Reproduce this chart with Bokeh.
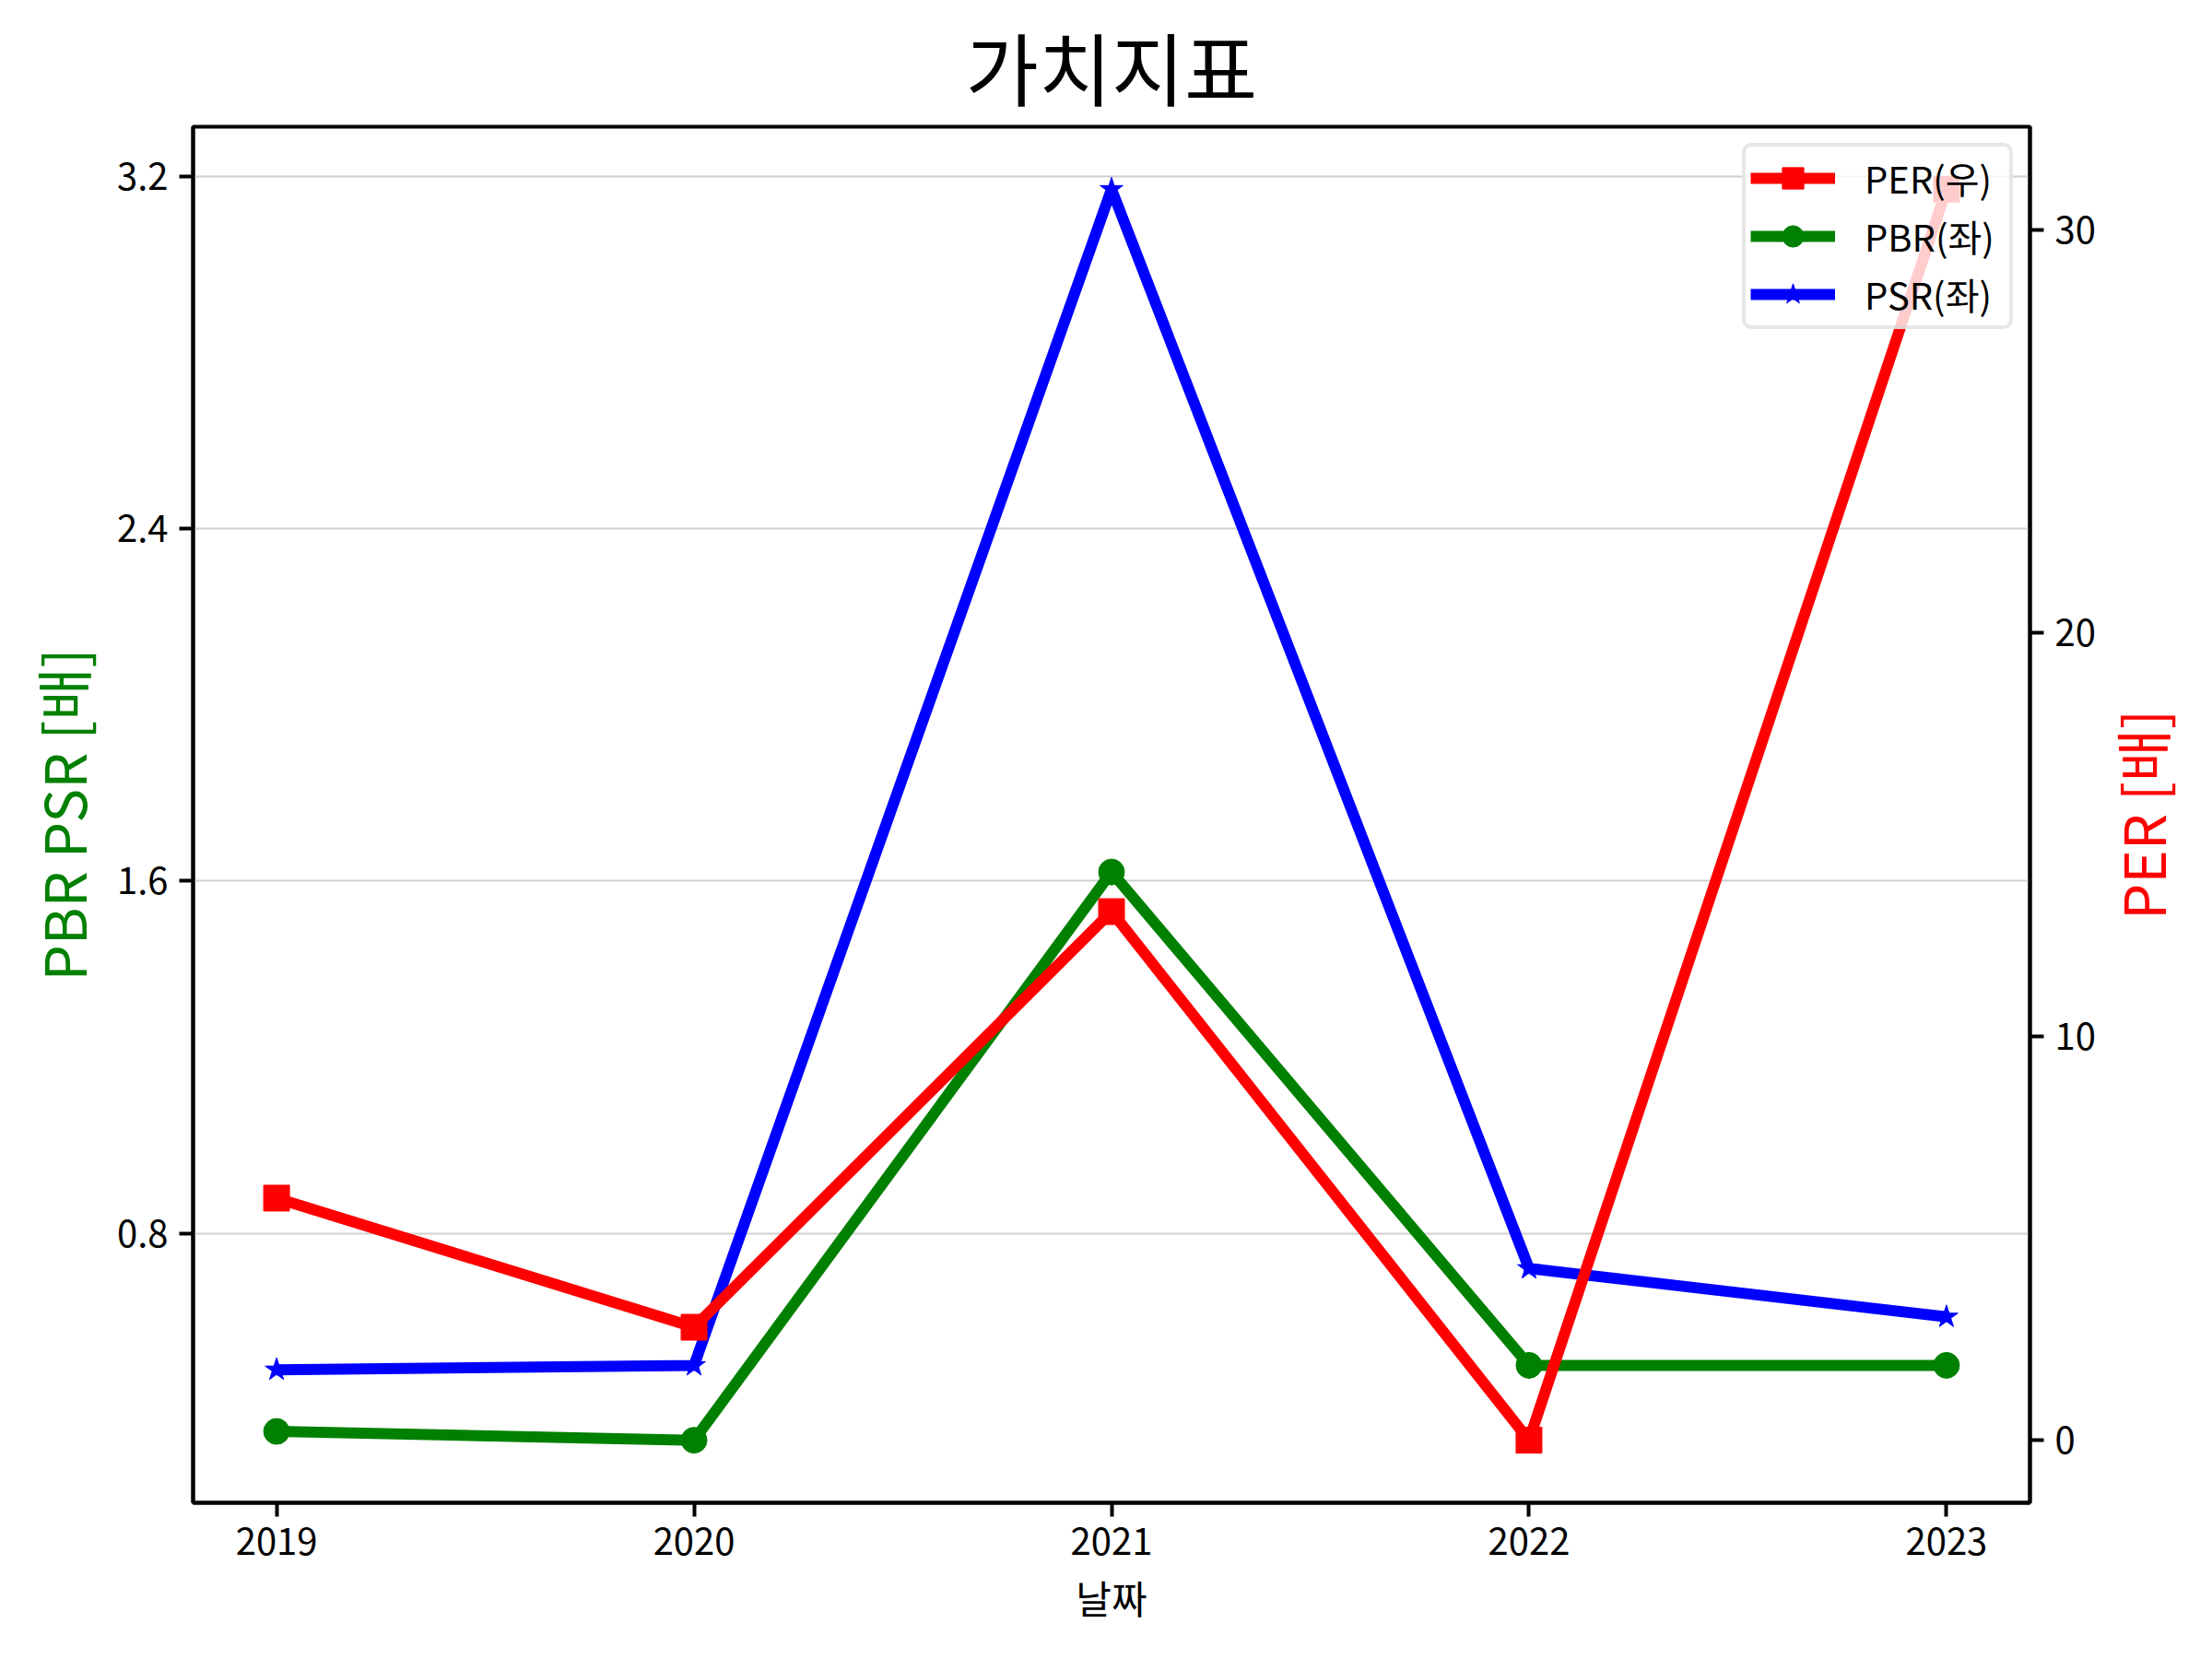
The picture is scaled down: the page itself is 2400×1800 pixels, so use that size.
import math
from bokeh.plotting import figure
from bokeh.layouts import row
from bokeh.models import Range1d, LinearAxis, FixedTicker, Legend, LegendItem, Title
from bokeh.embed import file_html
from bokeh.resources import INLINE

years = [2019, 2020, 2021, 2022, 2023]
per = [6.0, 2.8, 13.1, 0.0, 31.0]
pbr = [0.35, 0.33, 1.62, 0.50, 0.50]
psr = [0.49, 0.50, 3.17, 0.72, 0.61]

left_ticks = [0.8, 1.6, 2.4, 3.2]
right_ticks = [0, 10, 20, 30]

title_text = "가치지표"
xlabel = "날짜"
ylabel_left = "PBR PSR [배]"
ylabel_right = "PER [배]"
labels = ["PER(우)", "PBR(좌)", "PSR(좌)"]

FONT = "Noto Sans CJK KR"
TOTAL_W, H = 2384, 1784
MAIN_W = 2276
FRAME_RIGHT = 2203
BORDER_TOP, BORDER_BOTTOM = 137, 154


def padded(vals, frac=0.05):
    lo, hi = min(vals), max(vals)
    m = (hi - lo) * frac
    return lo - m, hi + m


xlo, xhi = padded(years)
ylo, yhi = padded(pbr + psr)
rlo, rhi = padded(per)

p = figure(width=MAIN_W, height=H,
           x_range=Range1d(xlo, xhi), y_range=Range1d(ylo, yhi),
           output_backend="svg", toolbar_location=None,
           min_border_left=209, min_border_right=MAIN_W - FRAME_RIGHT,
           min_border_top=BORDER_TOP, min_border_bottom=BORDER_BOTTOM)
p.extra_y_ranges = {"per": Range1d(rlo, rhi)}

p.title.text = title_text
p.title.align = "center"
p.title.text_font = FONT
p.title.text_font_size = "86px"
p.title.text_font_style = "normal"
p.title.text_color = "black"
p.title.standoff = 8

p.outline_line_color = "black"
p.outline_line_width = 4
p.outline_line_alpha = 1.0

p.xgrid.visible = False
p.ygrid.grid_line_color = "#d0d0d0"
p.ygrid.grid_line_width = 2
p.ygrid.ticker = FixedTicker(ticks=left_ticks)

right_axis = LinearAxis(y_range_name="per")
p.add_layout(right_axis, "right")

p.xaxis.ticker = FixedTicker(ticks=years)
p.yaxis[0].ticker = FixedTicker(ticks=left_ticks)
right_axis.ticker = FixedTicker(ticks=right_ticks)

for ax in [p.xaxis[0], p.yaxis[0], right_axis]:
    ax.axis_line_color = "black"
    ax.axis_line_width = 4
    ax.major_tick_line_color = "black"
    ax.major_tick_line_width = 4
    ax.major_tick_out = 15
    ax.major_tick_in = 0
    ax.minor_tick_line_color = None
    ax.major_label_text_font = FONT
    ax.major_label_text_font_size = "40px"
    ax.major_label_text_color = "black"
    ax.major_label_standoff = 12
    ax.axis_label_text_font = FONT
    ax.axis_label_text_font_style = "normal"

p.xaxis.axis_label = xlabel
p.xaxis.axis_label_text_font_size = "42px"
p.xaxis.axis_label_text_color = "black"
p.xaxis.axis_label_standoff = 12

p.yaxis[0].axis_label = ylabel_left
p.yaxis[0].axis_label_text_font_size = "62px"
p.yaxis[0].axis_label_text_color = "green"
p.yaxis[0].axis_label_standoff = 12

LW = 12
l_pbr = p.line(years, pbr, line_color="green", line_width=LW)
s_pbr = p.scatter(years, pbr, marker="circle", size=28, fill_color="green", line_color="green")
l_psr = p.line(years, psr, line_color="blue", line_width=LW)
s_psr = p.scatter(years, psr, marker="star", size=26, fill_color="blue", line_color="blue")
l_per = p.line(years, per, line_color="red", line_width=LW, y_range_name="per")
s_per = p.scatter(years, per, marker="square", size=28, fill_color="red", line_color="red", y_range_name="per")

legend = Legend(items=[
    LegendItem(label=labels[0], renderers=[l_per, s_per]),
    LegendItem(label=labels[1], renderers=[l_pbr, s_pbr]),
    LegendItem(label=labels[2], renderers=[l_psr, s_psr]),
], location="top_right")
legend.level = "underlay"
legend.margin = 18
legend.padding = 5
legend.spacing = 5
legend.glyph_width = 92
legend.glyph_height = 58
legend.label_width = 152
legend.label_text_font = FONT
legend.label_text_font_size = "40px"
legend.label_text_color = "black"
legend.label_standoff = 32
legend.border_line_color = "#d0d0d0"
legend.border_line_width = 4
legend.border_radius = 10
legend.background_fill_alpha = 0.8
p.add_layout(legend)

# narrow strip on the right holding the PER axis title (reads bottom-to-top)
side = figure(width=TOTAL_W - MAIN_W, height=H,
              x_range=Range1d(0, 1), y_range=Range1d(0, 1),
              output_backend="svg", toolbar_location=None,
              x_axis_location=None, y_axis_location=None,
              min_border_left=72, min_border_right=0,
              min_border_top=BORDER_TOP, min_border_bottom=BORDER_BOTTOM)
side.grid.visible = False
side.outline_line_color = None
per_title = Title(text=ylabel_right, align="center", vertical_align="middle",
                  standoff=0, text_font=FONT, text_font_size="62px",
                  text_font_style="normal", text_color="red")
side.add_layout(per_title, "left")

layout = row(p, side, spacing=0)
open("out.html", "w").write(file_html(layout, INLINE))
